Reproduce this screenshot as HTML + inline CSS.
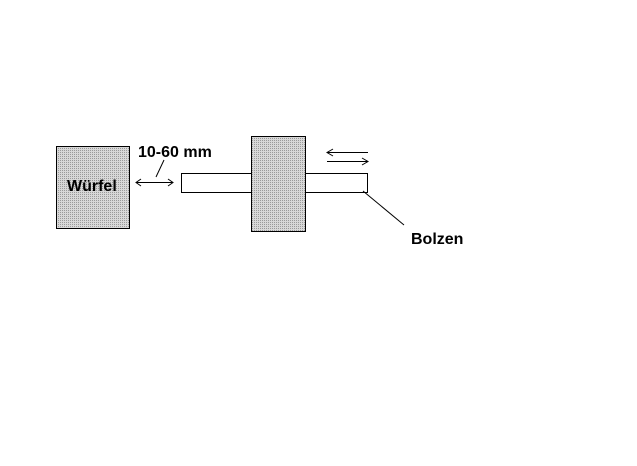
<!DOCTYPE html>
<html><head><style>
html,body{margin:0;padding:0;background:#fff;}
svg{display:block;}
text{font-family:"Liberation Sans",Arial,sans-serif;font-weight:bold;fill:#000;}
</style></head><body>
<svg width="637" height="466" viewBox="0 0 637 466" xmlns="http://www.w3.org/2000/svg">
<defs>
<pattern id="dots" width="2" height="2" patternUnits="userSpaceOnUse">
<rect width="2" height="2" fill="#d8d8d8"/>
<rect width="1" height="1" fill="#9a9a9a"/>
</pattern>
</defs>
<rect x="56.5" y="146.5" width="73" height="82" fill="url(#dots)" stroke="#000"/>
<text x="67" y="191" font-size="16">Würfel</text>
<rect x="181.5" y="173.5" width="186" height="19" fill="#fff" stroke="#000"/>
<rect x="251.5" y="136.5" width="54" height="95" fill="url(#dots)" stroke="#000"/>
<text x="138" y="157" font-size="16">10-60 mm</text>
<g stroke="#000" stroke-width="1" fill="none">
<line x1="136" y1="182.5" x2="173" y2="182.5"/>
<polyline points="141,179 136,182.5 141,186"/>
<polyline points="168,179 173,182.5 168,186"/>
<line x1="164" y1="160" x2="156" y2="177"/>
<line x1="327" y1="152.5" x2="368" y2="152.5"/>
<polyline points="333,149 327,152.5 333,156"/>
<line x1="327" y1="161.5" x2="368" y2="161.5"/>
<polyline points="362,158 368,161.5 362,165"/>
<line x1="363" y1="191" x2="404" y2="225"/>
</g>
<text x="411" y="244" font-size="16">Bolzen</text>
</svg>
</body></html>
